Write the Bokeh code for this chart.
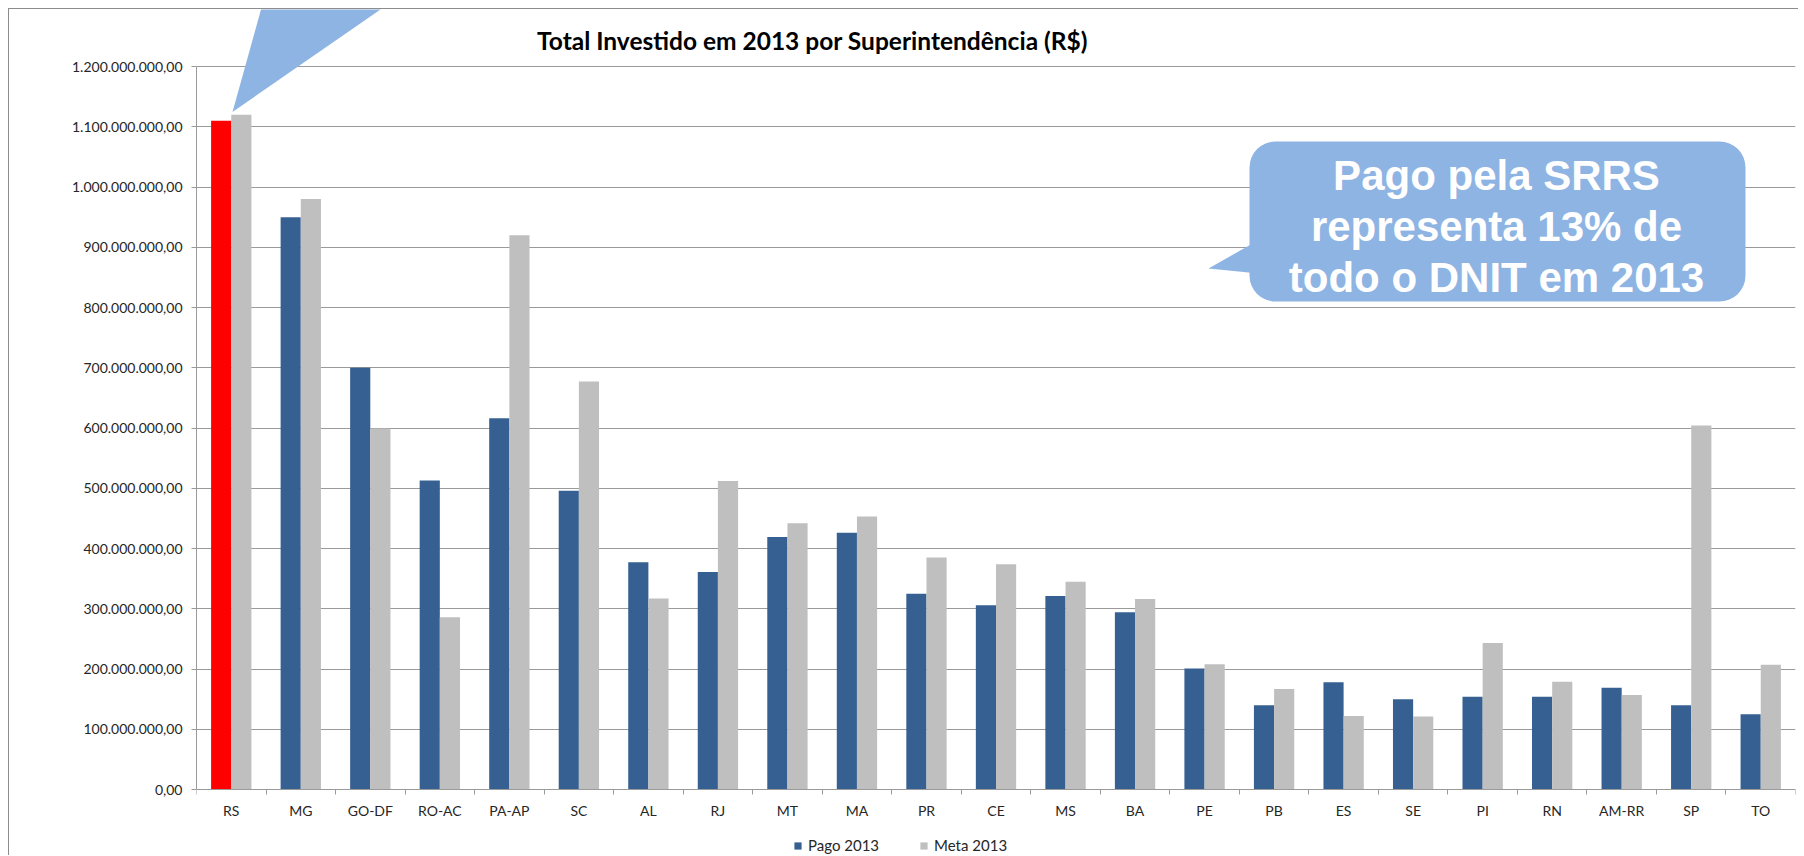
from bokeh.plotting import figure
from bokeh.models import (ColumnDataSource, Range1d, FixedTicker, Label, BoxAnnotation,
                          PolyAnnotation, Legend, LegendItem)
from bokeh.transform import dodge
from bokeh.embed import file_html
from bokeh.resources import INLINE

# ---------------- data ----------------
categories = ["RS", "MG", "GO-DF", "RO-AC", "PA-AP", "SC", "AL", "RJ", "MT", "MA", "PR",
              "CE", "MS", "BA", "PE", "PB", "ES", "SE", "PI", "RN", "AM-RR", "SP", "TO"]
pago_2013 = [1110e6, 950e6, 700e6, 513e6, 616e6, 496e6, 377e6, 361e6, 419e6, 426e6, 325e6,
             306e6, 321e6, 294e6, 201e6, 140e6, 178e6, 150e6, 154e6, 154e6, 169e6, 140e6, 125e6]
meta_2013 = [1120e6, 980e6, 599e6, 286e6, 920e6, 677e6, 317e6, 512e6, 442e6, 453e6, 385e6,
             374e6, 345e6, 316e6, 208e6, 167e6, 122e6, 121e6, 243e6, 179e6, 157e6, 604e6, 207e6]
highlight = "RS"
y_ticks = [0, 100000000, 200000000, 300000000, 400000000, 500000000, 600000000,
           700000000, 800000000, 900000000, 1000000000, 1100000000, 1200000000]
y_tick_labels = ["0,00", "100.000.000,00", "200.000.000,00", "300.000.000,00",
                 "400.000.000,00", "500.000.000,00", "600.000.000,00", "700.000.000,00",
                 "800.000.000,00", "900.000.000,00", "1.000.000.000,00",
                 "1.100.000.000,00", "1.200.000.000,00"]
series_names = ["Pago 2013", "Meta 2013"]
title_text = "Total Investido em 2013 por Superintendência (R$)"
callout_lines = ["Pago pela SRRS", "representa 13% de", "todo o DNIT em 2013"]

# ---------------- styles / geometry ----------------
BLUE = "#366092"
GRAY = "#BFBFBF"
RED = "#FF0000"
CALLOUT = "#8EB4E3"
GRID = "#9A9A9A"
FONT = "Lato"

OFF = 9                      # figure placed after 8px css margin + 1px css border
W, H = 1790, 847
FL, FR = 196 - OFF, 1795 - OFF        # frame left/right (figure-local px)
ZERO = 789 - OFF                      # pixel row of value 0
TOPTICK = 66 - OFF                    # pixel row of the top gridline
X0, X1 = -0.5, len(categories) - 0.5
YT = y_ticks[-1]
PER_PX = YT / (ZERO - TOPTICK)
Y1 = ZERO * PER_PX                    # value at canvas top
YB = -(H - ZERO) * PER_PX             # value at canvas bottom


def dx(real_px):
    return X0 + (real_px - OFF - FL) / (FR - FL) * (X1 - X0)


def dy(real_px):
    return (ZERO - (real_px - OFF)) * PER_PX


xs = list(range(len(categories)))
pago_colors = [RED if c == highlight else BLUE for c in categories]
src = ColumnDataSource(dict(x=xs, cat=categories, pago=pago_2013, meta=meta_2013,
                            pcolor=pago_colors))

p = figure(width=W, height=H, output_backend="svg", toolbar_location=None,
           x_range=Range1d(X0, X1), y_range=Range1d(YB, Y1),
           min_border_left=FL, min_border_right=W - FR,
           min_border_top=0, min_border_bottom=0)
p.outline_line_color = None
p.background_fill_color = "white"
p.border_fill_color = "white"
p.styles = {"margin-left": "8px", "margin-top": "8px",
            "border-left": "1px solid #8C8C8C", "border-top": "1px solid #8C8C8C"}

r_pago = p.vbar(x=dodge("x", -0.145, range=p.x_range), top="pago", bottom=0, width=0.29,
                fill_color="pcolor", line_color=None, source=src)
r_meta = p.vbar(x=dodge("x", 0.145, range=p.x_range), top="meta", bottom=0, width=0.29,
                fill_color=GRAY, line_color=None, source=src)

# axes
p.xgrid.visible = False
p.ygrid.grid_line_color = GRID
p.ygrid.grid_line_width = 1
p.ygrid.ticker = FixedTicker(ticks=y_ticks)

p.yaxis.ticker = FixedTicker(ticks=y_ticks)
p.yaxis.bounds = (0, YT)
p.yaxis.major_label_overrides = {t: l for t, l in zip(y_ticks, y_tick_labels)}
p.yaxis.minor_tick_line_color = None
p.yaxis.major_tick_out = 5
p.yaxis.major_tick_in = 0
p.yaxis.major_label_standoff = 9
p.yaxis.axis_line_color = GRID
p.yaxis.major_tick_line_color = GRID
p.yaxis.major_label_text_font = FONT
p.yaxis.major_label_text_font_size = "14px"
p.yaxis.major_label_text_color = "#262626"

p.xaxis.fixed_location = 0
p.xaxis.ticker = FixedTicker(ticks=xs, minor_ticks=[i - 0.5 for i in range(len(categories) + 1)])
p.xaxis.major_label_overrides = {i: c for i, c in enumerate(categories)}
p.xaxis.major_tick_line_color = None
p.xaxis.major_tick_out = 0
p.xaxis.major_tick_in = 0
p.xaxis.minor_tick_out = 5
p.xaxis.minor_tick_in = 0
p.xaxis.minor_tick_line_color = GRID
p.xaxis.axis_line_color = GRID
p.xaxis.major_label_standoff = 7
p.xaxis.major_label_text_font = FONT
p.xaxis.major_label_text_font_size = "14px"
p.xaxis.major_label_text_color = "#262626"

# title
p.add_layout(Label(x=dx(812), y=dy(40), text=title_text, text_align="center",
                   text_baseline="middle", text_font=FONT, text_font_style="bold",
                   text_font_size="24.5px", text_color="#000000"))

# top-left callout pointer (pointing at the RS bars)
p.add_layout(PolyAnnotation(xs=[dx(232), dx(263), dx(393)], ys=[dy(111.5), dy(0), dy(0)],
                            fill_color=CALLOUT, fill_alpha=1, line_color=None))

# right callout
p.add_layout(PolyAnnotation(xs=[dx(1268), dx(1208), dx(1268)], ys=[dy(234), dy(268), dy(274)],
                            fill_color=CALLOUT, fill_alpha=1, line_color=None))
p.add_layout(BoxAnnotation(left=dx(1249), right=dx(1745), top=dy(141), bottom=dy(301),
                           fill_color=CALLOUT, fill_alpha=1, line_color=None,
                           border_radius=26))
for line, yy in zip(callout_lines, [175, 226, 277]):
    p.add_layout(Label(x=dx(1496), y=dy(yy), text=line, text_align="center",
                       text_baseline="middle", text_font="Liberation Sans",
                       text_font_style="bold", text_font_size="42px", text_color="white"))

# legend (under the category labels, inside the extended frame)
legend = Legend(items=[LegendItem(label=series_names[0], renderers=[r_pago], index=1),
                       LegendItem(label=series_names[1], renderers=[r_meta], index=1)],
                location=(793 - 196, 2), orientation="horizontal",
                glyph_width=9, glyph_height=9, label_standoff=6, spacing=40,
                padding=0, margin=0, border_line_color=None, background_fill_alpha=0,
                label_text_font=FONT, label_text_font_size="15px",
                label_text_color="#262626")
p.add_layout(legend, "center")

open("out.html", "w").write(file_html(p, INLINE))
